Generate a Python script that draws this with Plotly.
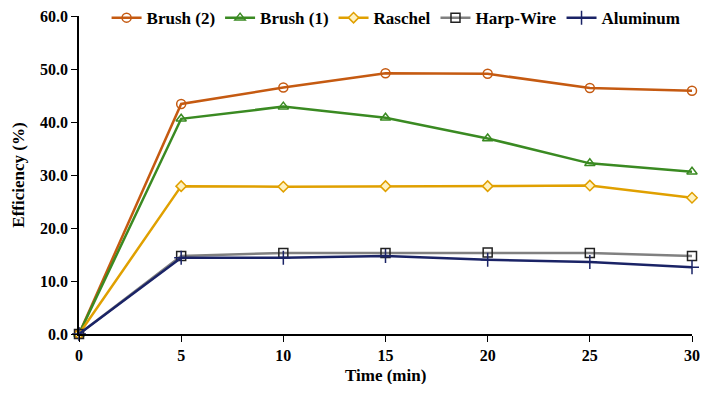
import plotly.graph_objects as go

time_min = [0, 5, 10, 15, 20, 25, 30]
brush2 = [0, 43.4, 46.5, 49.2, 49.1, 46.4, 45.9]
brush1 = [0, 40.6, 42.9, 40.8, 36.9, 32.2, 30.6]
raschel = [0, 27.9, 27.8, 27.9, 27.9, 28.0, 25.7]
harp_wire = [0, 14.7, 15.3, 15.3, 15.4, 15.3, 14.7]
aluminum = [0, 14.4, 14.4, 14.7, 14.0, 13.6, 12.6]
y_ticks = [0, 10, 20, 30, 40, 50, 60]
y_ticktext = ["0.0", "10.0", "20.0", "30.0", "40.0", "50.0", "60.0"]

series = [
    ("Brush (2)", brush2, "#C55A11", "circle-open", None, 9),
    ("Brush (1)", brush1, "#3A8A22", "triangle-up-open", None, 9),
    ("Raschel", raschel, "#E0A000", "diamond", "#FFF2C0", 8),
    ("Harp-Wire", harp_wire, "#808080", "square-open", None, 9),
    ("Aluminum", aluminum, "#1A2366", "cross-thin-open", None, 10),
]

fig = go.Figure()
for name, vals, color, sym, fill, size in series:
    if sym == "square-open":
        marker = dict(symbol=sym, size=size, color="#222222", line=dict(color="#222222", width=1.5))
    elif fill:
        marker = dict(symbol=sym, size=size, color=fill, line=dict(color=color, width=1.5))
    else:
        marker = dict(symbol=sym, size=size, color=color, line=dict(color=color, width=1.5))
    fig.add_trace(go.Scatter(x=time_min, y=vals, name="<b>%s</b>" % name, mode="lines+markers",
                             line=dict(color=color, width=2.5), marker=marker, cliponaxis=False))

ff = "Liberation Serif"
# page body has an 8px margin: keep the figure small enough that the page needs no scrollbar
fig.update_layout(
    width=700, height=376,
    margin=dict(l=71, r=16, t=8, b=50, autoexpand=False),
    paper_bgcolor="white", plot_bgcolor="white",
    font=dict(family=ff, size=16, color="black"),
    showlegend=True,
    legend=dict(orientation="h", x=0.045, y=1.05, xanchor="left", yanchor="top",
                font=dict(family=ff, size=17, color="black"),
                bgcolor="rgba(0,0,0,0)", tracegroupgap=0),
    xaxis=dict(range=[0, 30], tickvals=time_min, ticktext=["<b>%d</b>" % t for t in time_min],
               showline=True, linecolor="black", linewidth=1.5, automargin=False,
               ticks="outside", ticklen=6, tickcolor="black", showgrid=False, zeroline=False,
               ticklabeloverflow="allow",
               tickfont=dict(family=ff, size=16, color="black")),
    yaxis=dict(range=[0, 60], tickvals=y_ticks, ticktext=["<b>%s</b>" % t for t in y_ticktext],
               showline=True, linecolor="black", linewidth=1.5, automargin=False,
               ticks="outside", ticklen=6, tickcolor="black", showgrid=False, zeroline=False,
               ticklabeloverflow="allow",
               tickfont=dict(family=ff, size=16, color="black")),
    annotations=[
        dict(text="<b>Time (min)</b>", x=0.5, y=-0.132, xref="paper", yref="paper",
             xanchor="center", yanchor="middle", showarrow=False,
             font=dict(family=ff, size=17, color="black")),
        dict(text="<b>Efficiency (%)</b>", x=-0.1, y=0.5, xref="paper", yref="paper",
             xanchor="center", yanchor="middle", textangle=-90, showarrow=False,
             font=dict(family=ff, size=17, color="black")),
    ],
)
fig.write_html("out.html")
